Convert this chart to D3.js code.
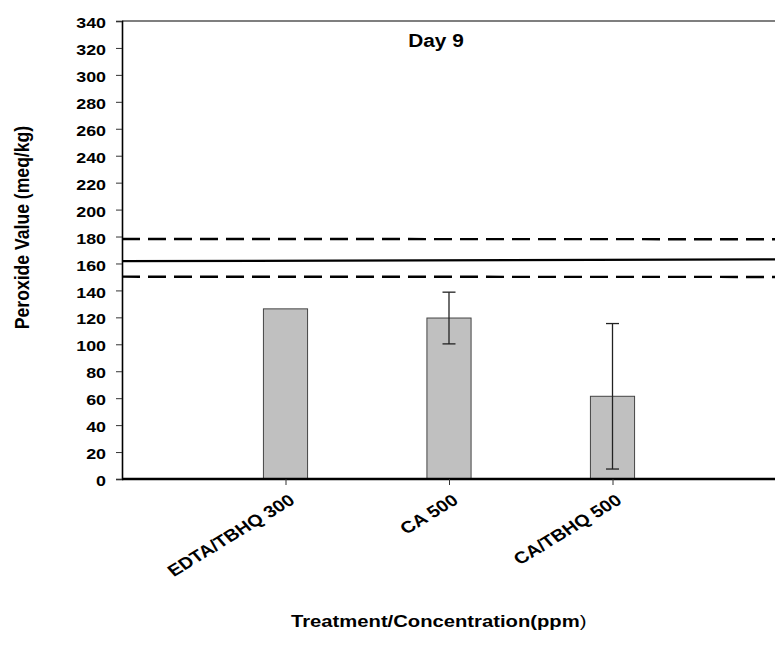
<!DOCTYPE html>
<html>
<head>
<meta charset="utf-8">
<script src="https://cdn.jsdelivr.net/npm/d3@7"></script>
<style>
  html, body { margin: 0; padding: 0; background: #fff; }
  svg { display: block; }
  text { font-family: Arial, "Liberation Sans", sans-serif; font-weight: bold; fill: #000; }
</style>
</head>
<body>
<svg id="chart" width="775" height="645"></svg>
<script>
// ---- data ----
const categories = ["EDTA/TBHQ 300", "CA 500", "CA/TBHQ 500"];
const values = [126.3, 119.5, 61.4];
const errors = [0, 19.2, 54.0];
const yTicks = [0, 20, 40, 60, 80, 100, 120, 140, 160, 180, 200, 220, 240, 260, 280, 300, 320, 340];
const controlMean = [161.7, 163.0];   // solid line, left and right ends
const controlUpper = [178.2, 178.0];  // dashed upper
const controlLower = [150.2, 150.0];  // dashed lower
const chartTitle = "Day 9";
const yTitle = "Peroxide Value (meq/kg)";
const xTitle = "Treatment/Concentration(ppm";

// ---- layout ----
const svg = d3.select("#chart");
const mLeft = 122, mRight = 776, mTop = 21, mBottom = 479;
const SX = 1.19; // horizontal stretch of the lettering
const FONT = "Arial, 'Liberation Sans', sans-serif";

const x = d3.scaleLinear().domain([0, categories.length + 1]).range([mLeft, mRight]);
const y = d3.scaleLinear().domain([0, 340]).range([mBottom, mTop]);
const barW = 0.27;

// top frame line
svg.append("line")
  .attr("x1", mLeft).attr("x2", 775).attr("y1", mTop).attr("y2", mTop)
  .attr("stroke", "#555").attr("stroke-width", 1.5);

// bars
svg.append("g").selectAll("rect").data(values).join("rect")
  .attr("x", (d, i) => x(i + 1 - barW / 2))
  .attr("width", (d, i) => x(i + 1 + barW / 2) - x(i + 1 - barW / 2))
  .attr("y", d => y(d))
  .attr("height", d => y(0) - y(d))
  .attr("fill", "#c0c0c0")
  .attr("stroke", "#444").attr("stroke-width", 1);

// error bars
const eg = svg.append("g").attr("stroke", "#222").attr("stroke-width", 1.3);
values.forEach((v, i) => {
  if (!errors[i]) return;
  const cx = x(i + 1);
  eg.append("line").attr("x1", cx).attr("x2", cx).attr("y1", y(v + errors[i])).attr("y2", y(v - errors[i]));
  eg.append("line").attr("x1", cx - 6.5).attr("x2", cx + 6.5).attr("y1", y(v + errors[i])).attr("y2", y(v + errors[i]));
  eg.append("line").attr("x1", cx - 6.5).attr("x2", cx + 6.5).attr("y1", y(v - errors[i])).attr("y2", y(v - errors[i]));
});

// reference lines
const xd = x.domain();
function refLine(vals, dash, w) {
  svg.append("line")
    .attr("x1", x(xd[0])).attr("x2", 775)
    .attr("y1", y(vals[0])).attr("y2", y(vals[1]))
    .attr("stroke", "#000").attr("stroke-width", w)
    .attr("stroke-dasharray", dash);
}
refLine(controlUpper, "18,8", 2.4);
refLine(controlMean, null, 2.2);
refLine(controlLower, "18,8", 2.4);

// y axis
const yAxis = svg.append("g").attr("transform", `translate(${mLeft},0)`)
  .call(d3.axisLeft(y).tickValues(yTicks).tickSize(6).tickFormat(d3.format("d")));
yAxis.select(".domain").attr("stroke", "#000").attr("stroke-width", 1.6);
yAxis.selectAll(".tick line").attr("stroke", "#333").attr("stroke-width", 1);
yAxis.selectAll(".tick text")
  .style("font-size", "15px").style("font-family", FONT).style("font-weight", "bold")
  .attr("x", 0).attr("dy", "0.44em")
  .attr("transform", `translate(-16,0) scale(${SX},1)`);

// x axis
const xAxis = svg.append("g").attr("transform", `translate(0,${mBottom})`)
  .call(d3.axisBottom(x).tickValues(d3.range(1, categories.length + 1)).tickSize(6).tickFormat(d => categories[d - 1]));
xAxis.select(".domain").attr("stroke", "#000").attr("stroke-width", 2.4).attr("d", `M${mLeft},0H775`);
xAxis.selectAll(".tick line").attr("stroke", "#333").attr("stroke-width", 1);
xAxis.selectAll(".tick text")
  .style("font-size", "16.5px").style("font-family", FONT).style("font-weight", "bold")
  .attr("text-anchor", "end")
  .attr("y", 0).attr("dy", 0)
  .attr("transform", `translate(10,23.5) scale(${SX},1) rotate(-36)`);

// title
svg.append("text").attr("transform", `translate(436,47) scale(${SX},1)`).attr("text-anchor", "middle")
  .style("font-size", "17.5px").text(chartTitle);

// y title
svg.append("text").attr("transform", `translate(29,227.5) scale(${SX},1) rotate(-90)`).attr("text-anchor", "middle")
  .style("font-size", "17.6px").text(yTitle);

// x title
const xt = svg.append("text").attr("transform", `translate(291,627) scale(${SX},1)`).attr("text-anchor", "start")
  .style("font-size", "17px");
xt.append("tspan").text(xTitle);
xt.append("tspan").style("font-weight", "normal").text(")");
</script>
</body>
</html>
